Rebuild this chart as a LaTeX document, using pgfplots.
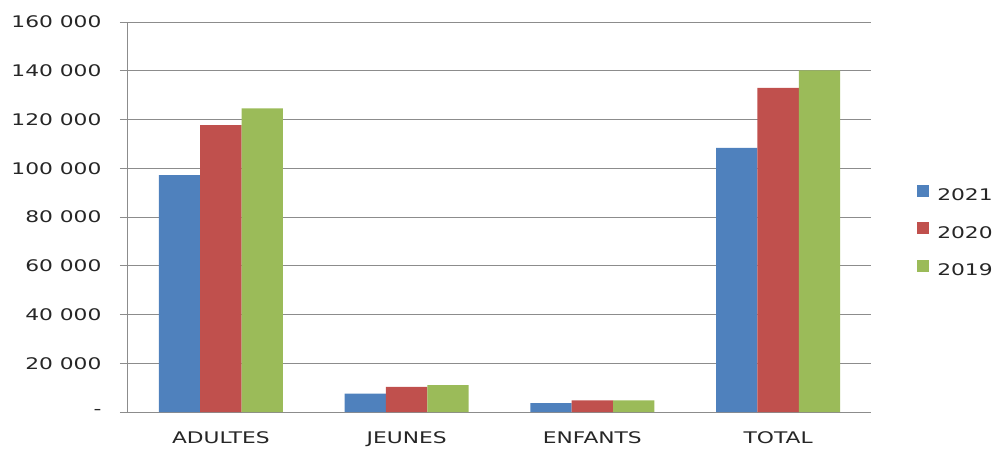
\documentclass[border=0pt]{standalone}
\usepackage{fontspec}
\setmainfont{DejaVu Sans}[FakeStretch=1.36]
\usepackage{pgfplots}
\pgfplotsset{compat=1.18}
\definecolor{c21}{HTML}{4F81BD}
\definecolor{c20}{HTML}{C0504D}
\definecolor{c19}{HTML}{9BBB59}
\definecolor{gridc}{HTML}{8C8C8C}
\begin{document}
\begin{tikzpicture}
\useasboundingbox (-128pt,-36pt) rectangle (869pt,412pt);
\begin{axis}[
  at={(0pt,0pt)}, anchor=south west,
  scale only axis, width=743pt, height=390pt,
  ymin=0, ymax=160000,
  xmin=-0.5, xmax=3.5,
  ybar=0pt, bar width=41.3pt,
  scaled y ticks=false,
  axis x line*=bottom, axis y line*=left,
  axis line style={gridc, line width=1pt, -},
  ytick={0,20000,40000,60000,80000,100000,120000,140000,160000},
  yticklabels={-,20 000,40 000,60 000,80 000,100 000,120 000,140 000,160 000},
  ymajorgrids, grid style={gridc, line width=0.9pt},
  xtick={0,1,2,3}, xticklabels={ADULTES,JEUNES,ENFANTS,TOTAL},
  x tick style={draw=none},
  extra x ticks={-0.5,0.5,1.5,2.5,3.5}, extra x tick labels={},
  extra x tick style={tick style={draw=gridc, line width=1pt}, grid=none},
  y tick style={draw=gridc, line width=1pt},
  major tick length=8pt, tick align=outside,
  tick label style={font=\fontsize{16}{19}\selectfont, text=black!85},
  yticklabel style={xshift=-15pt},
  xticklabel style={yshift=-8.5pt},
  legend style={draw=none, fill=none, at={(1.062,0.4615)}, anchor=west, inner sep=0pt,
    font=\fontsize{16}{19}\selectfont, text=black!85, row sep=18pt,
    /tikz/every odd column/.style={column sep=6pt}},
  legend cell align=left,
  legend image code/.code={\fill[#1] (0pt,-1.5pt) rectangle (12pt,10.5pt);},
]
\addplot[fill=c21, draw=none] coordinates {(0,97200) (1,7500) (2,3600) (3,108400)};
\addplot[fill=c20, draw=none] coordinates {(0,117700) (1,10300) (2,4800) (3,133000)};
\addplot[fill=c19, draw=none] coordinates {(0,124600) (1,11000) (2,4800) (3,140200)};
\legend{2021,2020,2019}
\end{axis}
\end{tikzpicture}
\end{document}
